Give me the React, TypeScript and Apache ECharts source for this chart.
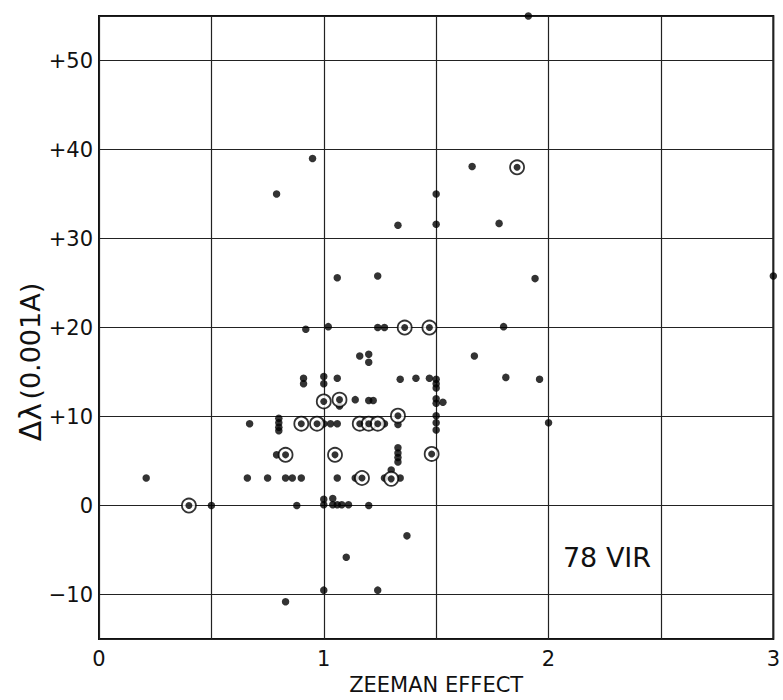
import React, { useEffect, useRef } from "react";
import * as echarts from "echarts";

// Plain measured points: [Zeeman effect, Δλ (0.001 A)]
const dotX = [
  1.91, 0.95, 0.79, 1.33, 1.5, 1.5, 1.66, 1.78, 1.94, 3.0, 1.06, 1.24,
  0.92, 1.02, 1.24, 1.27, 1.8,
  1.16, 1.2, 1.2, 1.67,
  0.91, 0.91, 1.0, 1.0, 1.06, 1.34, 1.41, 1.47, 1.5, 1.5, 1.5, 1.81, 1.96,
  1.07, 1.14, 1.2, 1.22, 1.5, 1.5, 1.53,
  1.5,
  0.67, 0.8, 0.8, 0.8, 0.8, 1.0, 1.03, 1.06, 1.27, 1.33, 1.5, 1.5, 2.0,
  0.79, 1.33, 1.33, 1.33, 1.33,
  0.21, 0.66, 0.75, 0.83, 0.86, 0.9, 1.06, 1.14, 1.27, 1.3, 1.34,
  0.5, 0.88, 1.0, 1.0, 1.04, 1.04, 1.06, 1.08, 1.11, 1.2,
  1.37, 1.1, 1.0, 1.24, 0.83,
];
const dotY = [
  55, 39.0, 35.0, 31.5, 35.0, 31.6, 38.1, 31.7, 25.5, 25.8, 25.6, 25.8,
  19.8, 20.1, 20.0, 20.0, 20.1,
  16.8, 17.0, 16.1, 16.8,
  14.3, 13.7, 14.5, 13.7, 14.3, 14.2, 14.3, 14.3, 14.2, 13.7, 13.2, 14.4, 14.2,
  11.2, 11.9, 11.8, 11.8, 12.0, 11.5, 11.6,
  10.1,
  9.2, 9.8, 9.3, 8.8, 8.4, 9.2, 9.2, 9.2, 9.2, 9.1, 9.3, 8.5, 9.3,
  5.7, 6.5, 5.9, 5.4, 4.9,
  3.1, 3.1, 3.1, 3.1, 3.1, 3.1, 3.1, 3.1, 3.1, 4.0, 3.1,
  0.0, 0.0, 0.7, 0.1, 0.8, 0.1, 0.1, 0.1, 0.1, 0.0,
  -3.4, -5.8, -9.5, -9.5, -10.8,
];

// Circled points
const ringX = [0.4, 0.83, 0.9, 0.97, 1.0, 1.07, 1.05, 1.16, 1.2, 1.24, 1.17, 1.3, 1.33, 1.36, 1.47, 1.48, 1.86];
const ringY = [0.0, 5.7, 9.2, 9.2, 11.7, 11.9, 5.7, 9.2, 9.2, 9.2, 3.1, 3.0, 10.1, 20.0, 20.0, 5.8, 38.0];

const xLabels = [0, 1, 2, 3];
const yLabelValues = [-10, 0, 10, 20, 30, 40, 50];

const FONT = "DejaVu Sans";

export default function App() {
  const ref = useRef<HTMLDivElement>(null);
  useEffect(() => {
    document.body.style.margin = "0";
    const chart = echarts.init(ref.current!, null, { renderer: "svg" });
    const dots = dotX.map((x, i) => [x, dotY[i]]);
    const rings = ringX.map((x, i) => [x, ringY[i]]);
    chart.setOption({
      animation: false,
      backgroundColor: "#ffffff",
      grid: {
        left: 99,
        right: 7,
        top: 16,
        bottom: 52,
        show: true,
        borderColor: "#111",
        borderWidth: 2,
        backgroundColor: "transparent",
      },
      xAxis: {
        type: "value",
        min: 0,
        max: 3,
        interval: 0.5,
        axisLine: { show: false },
        axisTick: { show: false },
        splitLine: { show: true, lineStyle: { color: "#222", width: 1.2 } },
        axisLabel: {
          margin: 9,
          fontFamily: FONT,
          fontSize: 21,
          color: "#111",
          formatter: (v: number) => (xLabels.includes(v) ? String(v) : ""),
        },
        name: "ZEEMAN EFFECT",
        nameLocation: "middle",
        nameGap: 33,
        nameTextStyle: { fontFamily: FONT, fontSize: 21, color: "#111" },
      },
      yAxis: {
        type: "value",
        min: -15,
        max: 55,
        splitNumber: 7,
        axisLine: { show: false },
        axisTick: { show: false },
        splitLine: { show: true, lineStyle: { color: "#222", width: 1.2 } },
        axisLabel: {
          margin: 6,
          showMinLabel: false,
          showMaxLabel: false,
          fontFamily: FONT,
          fontSize: 21,
          color: "#111",
          formatter: (v: number) => {
            if (!yLabelValues.includes(v)) return "";
            if (v > 0) return "+" + v;
            if (v < 0) return "\u2212" + Math.abs(v);
            return "0";
          },
        },
      },
      graphic: [
        {
          type: "text",
          x: 30,
          y: 362,
          rotation: Math.PI / 2,
          style: {
            text: "{a|Δλ} {b|(0.001A)}",
            align: "center",
            verticalAlign: "middle",
            fill: "#111",
            rich: {
              a: { fontFamily: FONT, fontSize: 30, fill: "#111" },
              b: { fontFamily: FONT, fontSize: 27, fill: "#111" },
            },
          },
        },
        {
          type: "text",
          x: 607,
          y: 557,
          style: {
            text: "78 VIR",
            align: "center",
            verticalAlign: "middle",
            fontFamily: FONT,
            fontSize: 27,
            fill: "#111",
          },
        },
      ],
      series: [
        {
          type: "scatter",
          data: dots,
          symbol: "circle",
          symbolSize: 7.5,
          clip: false,
          itemStyle: { color: "#000" },
          z: 3,
        },
        {
          type: "scatter",
          data: rings,
          symbol: "circle",
          symbolSize: 14,
          clip: false,
          itemStyle: { color: "#fff", borderColor: "#000", borderWidth: 1.8 },
          z: 4,
        },
        {
          type: "scatter",
          data: rings,
          symbol: "circle",
          symbolSize: 7,
          clip: false,
          itemStyle: { color: "#000" },
          z: 5,
        },
      ],
    });
    return () => chart.dispose();
  }, []);
  return (
    <div
      ref={ref}
      style={{ position: "fixed", left: 0, top: 0, width: 783, height: 700 }}
    />
  );
}
